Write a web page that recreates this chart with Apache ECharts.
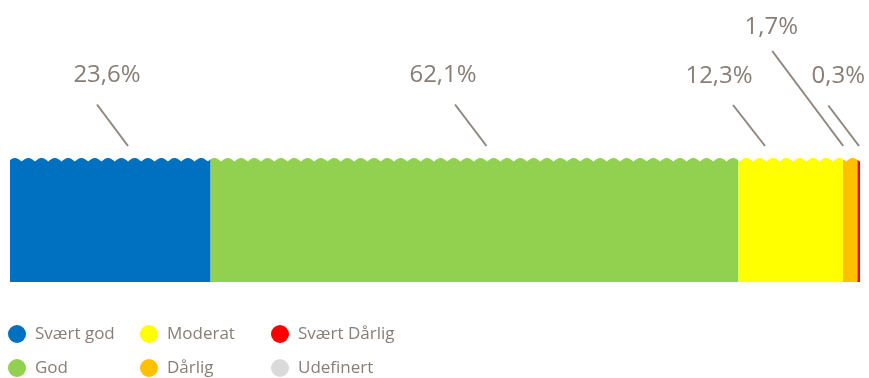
<!DOCTYPE html>
<html>
<head>
<meta charset="utf-8">
<script src="https://cdn.jsdelivr.net/npm/echarts@6/dist/echarts.min.js"></script>
<style>
  html, body { margin: 0; padding: 0; background: #ffffff; }
  #chart { width: 869px; height: 378px; }
</style>
</head>
<body>
<div id="chart"></div>
<script>
// Condition classes and their share of the total (percent)
const categories = ['Svært god', 'God', 'Moderat', 'Dårlig', 'Svært Dårlig', 'Udefinert'];
const shares = [23.6, 62.1, 12.3, 1.7, 0.3, 0];
const colors = ['#0070c0', '#92d050', '#ffff00', '#ffc000', '#ff0000', '#dadada'];

// Leader-line placement for each value label (pixels)
const leaderLayout = [
  { shift: 17.7, rise: 41.5, run: 31,   tx: 10,  ty: -29 },
  { shift: 12,   rise: 41.5, run: 31.5, tx: -12, ty: -29 },
  { shift: -25.7, rise: 41,  run: 32,   tx: -14, ty: -29 },
  { shift: -7,   rise: 95,   run: 71,   tx: -1,  ty: -24 },
  { shift: 0.3,  rise: 40.5, run: 30.7, tx: 10,  ty: -29 },
  { shift: 0,    rise: 41,   run: 31,   tx: 0,   ty: -29 }
];

// Legend grid: three columns, two rows (column-major)
const legendCols = [8, 140, 271];
const legendRows = [325, 359];

const textColor = '#887e76';
const WAVE_PERIOD = 13.3;
const WAVE_AMP = 3.5;
const WAVE_PHASE = 8.3;

function fmtPct(v) {
  return v.toFixed(1).replace('.', ',') + '%';
}

// cumulative start/end of every segment
const segments = [];
let acc = 0;
shares.forEach(function (v) {
  segments.push([acc, acc + v, 0]);
  acc += v;
});

function renderSegment(idx) {
  return function (params, api) {
    const s = api.value(0), e = api.value(1);
    if (e - s <= 0) return null;
    const p0 = api.coord([s, 0]);
    const p1 = api.coord([e, 0]);
    const band = api.size([0, 1])[1];
    const yPeak = p0[1] - band / 2;
    const yBottom = p0[1] + band / 2;
    const wave = function (x) {
      return yPeak + WAVE_AMP - WAVE_AMP * Math.abs(Math.sin(Math.PI * (x - WAVE_PHASE) / WAVE_PERIOD));
    };
    const pts = [[p0[0], yBottom], [p1[0], yBottom]];
    for (let x = p1[0]; x > p0[0]; x -= 0.5) {
      pts.push([x, wave(x)]);
    }
    pts.push([p0[0], wave(p0[0])]);

    const lay = leaderLayout[idx];
    const cx = (p0[0] + p1[0]) / 2;
    const lx2 = cx + lay.shift;
    const ly2 = yPeak - 12;
    const lx1 = lx2 - lay.run;
    const ly1 = ly2 - lay.rise;

    return {
      type: 'group',
      children: [
        {
          type: 'polygon',
          shape: { points: pts },
          style: { fill: api.visual('color') }
        },
        {
          type: 'line',
          shape: { x1: lx1, y1: ly1, x2: lx2, y2: ly2 },
          style: { stroke: '#8f867f', lineWidth: 2 }
        },
        {
          type: 'text',
          x: lx1 + lay.tx,
          y: ly1 + lay.ty,
          style: {
            text: fmtPct(e - s),
            fill: textColor,
            fontSize: 24,
            fontFamily: '"Open Sans", sans-serif',
            align: 'center',
            verticalAlign: 'middle'
          }
        }
      ]
    };
  };
}

const series = categories.map(function (name, i) {
  return {
    name: name,
    type: 'custom',
    clip: false,
    itemStyle: { color: colors[i] },
    encode: { x: [0, 1], y: 2 },
    renderItem: renderSegment(i),
    data: [segments[i]]
  };
});

// one legend entry per category, placed on the grid
const legends = categories.map(function (name, i) {
  return {
    data: [name],
    left: legendCols[Math.floor(i / 2)],
    top: legendRows[i % 2],
    padding: 0,
    icon: 'circle',
    itemWidth: 18,
    itemHeight: 18,
    selectedMode: false,
    textStyle: {
      color: textColor,
      fontSize: 17,
      fontFamily: '"Open Sans", sans-serif',
      padding: [0, 0, 0, 4]
    }
  };
});

const chart = echarts.init(document.getElementById('chart'), null, { renderer: 'canvas' });
chart.setOption({
  animation: false,
  backgroundColor: '#ffffff',
  grid: { left: 10, right: 9, top: 158, bottom: 96 },
  xAxis: { type: 'value', min: 0, max: 100, show: false },
  yAxis: { type: 'category', data: ['Tilstand'], show: false },
  legend: legends,
  series: series
});
</script>
</body>
</html>
